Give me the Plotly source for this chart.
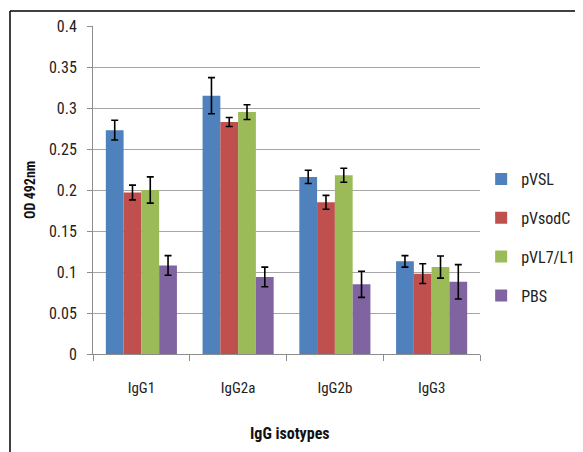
import plotly.graph_objects as go

categories = ["IgG1", "IgG2a", "IgG2b", "IgG3"]
series_names = ["pVSL", "pVsodC", "pVL7/L12", "PBS"]
pVSL = [0.273, 0.315, 0.216, 0.113]
pVsodC = [0.197, 0.283, 0.185, 0.098]
pVL7 = [0.200, 0.295, 0.218, 0.106]
PBS = [0.108, 0.094, 0.085, 0.088]
err_pVSL = [0.012, 0.022, 0.008, 0.007]
err_pVsodC = [0.009, 0.0055, 0.0085, 0.012]
err_pVL7 = [0.016, 0.009, 0.0085, 0.0135]
err_PBS = [0.012, 0.012, 0.016, 0.021]
colors = ["#4F81BD", "#C0504D", "#9BBB59", "#8064A2"]

FONT = "Liberation Sans Narrow, Arial Narrow, Roboto Condensed, Liberation Sans, sans-serif"

fig = go.Figure()
for name, vals, errs, col in zip(series_names, [pVSL, pVsodC, pVL7, PBS],
                                 [err_pVSL, err_pVsodC, err_pVL7, err_PBS], colors):
    fig.add_trace(go.Bar(
        x=categories, y=vals, name=name, legendgroup=name,
        marker=dict(color=col, line=dict(width=0)),
        error_y=dict(type="data", array=errs, visible=True, color="black",
                     thickness=1.6, width=3.5),
    ))

fig.update_layout(
    width=583, height=452,
    margin=dict(l=85, r=111, t=18, b=106, autoexpand=False),
    paper_bgcolor="white", plot_bgcolor="white",
    barmode="group", bargap=0.265, bargroupgap=0,
    font=dict(family=FONT, color="#222222"),
    showlegend=True,
    legend=dict(x=1.003, y=0.585, xanchor="left", yanchor="top",
                font=dict(size=16, family=FONT, color="#222222"),
                traceorder="grouped", tracegroupgap=15,
                itemwidth=30, bgcolor="rgba(0,0,0,0)"),
    xaxis=dict(
        showline=True, linecolor="#8c8c8c", linewidth=1,
        ticks="outside", tickson="boundaries", ticklen=6, tickcolor="#8c8c8c",
        ticklabelstandoff=20,
        tickfont=dict(size=15, family=FONT, color="#222222"),
        showgrid=False, automargin=False,
    ),
    yaxis=dict(
        range=[0, 0.4], dtick=0.05, tickformat="~g",
        showline=True, linecolor="#8c8c8c", linewidth=1,
        ticks="outside", ticklen=5, tickcolor="#8c8c8c",
        ticklabelstandoff=7,
        showgrid=True, gridcolor="#a6a6a6", gridwidth=1,
        zeroline=False, automargin=False,
        tickfont=dict(size=16, family=FONT, color="#222222"),
    ),
)

fig.add_annotation(text="<b>IgG isotypes</b>", xref="paper", yref="paper",
                   x=0.509, y=-0.241, xanchor="center", yanchor="middle",
                   showarrow=False, font=dict(size=16, family=FONT, color="#111111"))
fig.add_annotation(text="<b>OD 492nm</b>", xref="paper", yref="paper",
                   x=-0.163, y=0.5, xanchor="center", yanchor="middle", textangle=-90,
                   showarrow=False, font=dict(size=14, family=FONT, color="#111111"))

# outer chart border (top and left edges visible)
fig.add_shape(type="line", xref="paper", yref="paper",
              x0=-0.2145, x1=1.3, y0=1.0457, y1=1.0457,
              line=dict(color="black", width=1.5))
fig.add_shape(type="line", xref="paper", yref="paper",
              x0=-0.2145, x1=-0.2145, y0=1.0457, y1=-0.35,
              line=dict(color="black", width=1.5))

fig.write_html("out.html")
